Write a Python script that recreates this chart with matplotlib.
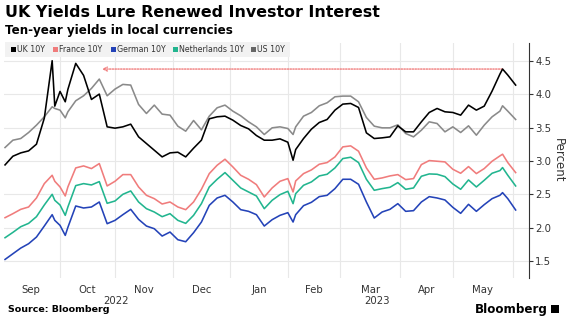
import numpy as np
import pandas as pd
import matplotlib
matplotlib.use('Agg')
import matplotlib.pyplot as plt

# ---------------- data ----------------
dates = ['2022-09-02', '2022-09-07', '2022-09-12', '2022-09-15', '2022-09-20', '2022-09-23',
         '2022-09-28', '2022-09-29', '2022-10-03', '2022-10-05', '2022-10-06', '2022-10-11',
         '2022-10-14', '2022-10-19', '2022-10-24', '2022-10-27', '2022-11-01', '2022-11-04',
         '2022-11-09', '2022-11-14', '2022-11-17', '2022-11-22', '2022-11-25', '2022-11-30',
         '2022-12-05', '2022-12-08', '2022-12-13', '2022-12-16', '2022-12-21', '2022-12-26',
         '2022-12-29', '2023-01-03', '2023-01-06', '2023-01-11', '2023-01-16', '2023-01-19',
         '2023-01-24', '2023-01-27', '2023-02-01', '2023-02-03', '2023-02-06', '2023-02-09',
         '2023-02-14', '2023-02-17', '2023-02-22', '2023-02-27', '2023-03-02', '2023-03-07',
         '2023-03-10', '2023-03-15', '2023-03-20', '2023-03-23', '2023-03-28', '2023-03-31',
         '2023-04-05', '2023-04-10', '2023-04-13', '2023-04-18', '2023-04-21', '2023-04-26',
         '2023-05-01', '2023-05-04', '2023-05-09', '2023-05-12', '2023-05-17', '2023-05-22',
         '2023-05-25', '2023-05-26', '2023-05-30', '2023-06-02']

uk_10y = [2.94, 3.07, 3.12, 3.15, 3.25, 3.64, 4.50, 3.82, 4.04, 3.885, 4.07, 4.46,
          4.28, 3.92, 4.00, 3.51, 3.49, 3.51, 3.55, 3.36, 3.26, 3.16, 3.06, 3.12,
          3.13, 3.06, 3.19, 3.31, 3.63, 3.66, 3.67, 3.61, 3.53, 3.48, 3.38, 3.31,
          3.31, 3.33, 3.28, 3.01, 3.17, 3.335, 3.475, 3.575, 3.62, 3.76, 3.85, 3.86,
          3.80, 3.42, 3.335, 3.345, 3.36, 3.525, 3.435, 3.435, 3.585, 3.725, 3.785, 3.735,
          3.725, 3.685, 3.835, 3.76, 3.82, 4.045, 4.30, 4.375, 4.285, 4.135]

france_10y = [2.15, 2.21, 2.275, 2.31, 2.445, 2.66, 2.785, 2.695, 2.61, 2.475, 2.61, 2.895,
              2.925, 2.885, 2.96, 2.625, 2.695, 2.795, 2.795, 2.61, 2.485, 2.435, 2.355, 2.385,
              2.31, 2.27, 2.385, 2.575, 2.81, 2.935, 3.025, 2.91, 2.785, 2.725, 2.645, 2.46,
              2.595, 2.695, 2.735, 2.535, 2.70, 2.81, 2.865, 2.95, 2.975, 3.06, 3.21, 3.225,
              3.145, 2.895, 2.725, 2.745, 2.775, 2.795, 2.72, 2.735, 2.945, 3.005, 2.995, 2.985,
              2.875, 2.815, 2.915, 2.81, 2.885, 2.995, 3.075, 3.10, 2.975, 2.825]

german_10y = [1.525, 1.61, 1.695, 1.76, 1.86, 2.025, 2.195, 2.11, 2.035, 1.885, 2.005, 2.325,
              2.295, 2.31, 2.385, 2.06, 2.11, 2.195, 2.275, 2.125, 2.025, 1.985, 1.875, 1.935,
              1.82, 1.79, 1.925, 2.085, 2.335, 2.445, 2.485, 2.385, 2.27, 2.245, 2.195, 2.025,
              2.12, 2.185, 2.225, 2.085, 2.195, 2.33, 2.38, 2.465, 2.485, 2.585, 2.725, 2.725,
              2.65, 2.385, 2.145, 2.235, 2.275, 2.36, 2.245, 2.255, 2.385, 2.465, 2.445, 2.415,
              2.305, 2.215, 2.35, 2.245, 2.345, 2.435, 2.485, 2.525, 2.435, 2.265]

netherlands_10y = [1.85, 1.93, 2.015, 2.065, 2.165, 2.34, 2.50, 2.41, 2.34, 2.185, 2.31, 2.63,
                   2.66, 2.64, 2.69, 2.365, 2.40, 2.50, 2.55, 2.385, 2.285, 2.235, 2.165, 2.21,
                   2.11, 2.065, 2.185, 2.36, 2.61, 2.725, 2.825, 2.71, 2.595, 2.535, 2.475, 2.285,
                   2.41, 2.495, 2.545, 2.36, 2.51, 2.635, 2.685, 2.775, 2.80, 2.895, 3.035, 3.055,
                   2.975, 2.725, 2.56, 2.585, 2.605, 2.675, 2.575, 2.595, 2.77, 2.805, 2.80, 2.765,
                   2.655, 2.575, 2.715, 2.61, 2.71, 2.815, 2.855, 2.90, 2.785, 2.625]

us_10y = [3.20, 3.31, 3.335, 3.425, 3.535, 3.66, 3.81, 3.785, 3.76, 3.645, 3.735, 3.90,
          3.975, 4.085, 4.225, 3.975, 4.075, 4.145, 4.135, 3.845, 3.71, 3.835, 3.70, 3.685,
          3.52, 3.445, 3.605, 3.465, 3.67, 3.795, 3.835, 3.745, 3.675, 3.585, 3.51, 3.395,
          3.495, 3.51, 3.485, 3.395, 3.51, 3.67, 3.725, 3.825, 3.87, 3.96, 3.97, 3.97,
          3.885, 3.65, 3.52, 3.495, 3.495, 3.54, 3.41, 3.36, 3.46, 3.585, 3.56, 3.435,
          3.51, 3.425, 3.525, 3.385, 3.535, 3.66, 3.745, 3.825, 3.745, 3.62]

series_names = ['UK 10Y', 'France 10Y', 'German 10Y', 'Netherlands 10Y', 'US 10Y']
arrow_start_date = '2022-10-25'
y_ticks = [1.5, 2.0, 2.5, 3.0, 3.5, 4.0, 4.5]
month_labels = ['Sep', 'Oct', 'Nov', 'Dec', 'Jan', 'Feb', 'Mar', 'Apr', 'May']
year_labels = ['2022', '2023']

# ---------------- styling ----------------
colors = {'UK 10Y': '#000000', 'France 10Y': '#f07c7c', 'German 10Y': '#2443b8',
          'Netherlands 10Y': '#22b58f', 'US 10Y': '#8a8a8a'}
legend_sq = {'UK 10Y': '#000000', 'France 10Y': '#f07c7c', 'German 10Y': '#2443b8',
             'Netherlands 10Y': '#22b58f', 'US 10Y': '#666666'}
text_col = '#333333'
grid_col = '#e8e8e8'
W, H = 569, 325

# business-day axis (no weekend gaps)
origin = np.datetime64('2022-09-01')
def bpos(d):
    return np.busday_count(origin, np.array(d, dtype='datetime64[D]'))

x = bpos(dates).astype(float)

fig = plt.figure(figsize=(W / 100, H / 100), dpi=100)
ax = fig.add_axes([0.007, 0.1446, 0.9227, 0.7231])

data = {'UK 10Y': uk_10y, 'France 10Y': france_10y, 'German 10Y': german_10y,
        'Netherlands 10Y': netherlands_10y, 'US 10Y': us_10y}
draw_order = ['US 10Y', 'German 10Y', 'Netherlands 10Y', 'France 10Y', 'UK 10Y']
for name in draw_order:
    ax.plot(x, data[name], color=colors[name], lw=1.15, solid_joinstyle='round', zorder=3)

# month gridlines at first business day of each month
month_starts = pd.date_range('2022-09-01', '2023-06-01', freq='MS')
first_bdays = np.busday_offset(np.array(month_starts.values, dtype='datetime64[D]'), 0, roll='forward')
mpos = bpos(first_bdays).astype(float)
for p in mpos[1:]:
    ax.axvline(p, color=grid_col, lw=0.8, zorder=1)
for yv in y_ticks:
    ax.axhline(yv, color=grid_col, lw=0.8, zorder=1)

ax.set_xlim(0.6, 201.1)
ax.set_ylim(1.247, 4.765)

# month labels centered between gridlines
mids = (mpos[:-1] + mpos[1:]) / 2
ax.set_xticks([])
for lab, m in zip(month_labels, mids):
    ax.text(m, -0.03, lab, transform=ax.get_xaxis_transform(), ha='center', va='top',
            fontsize=7.3, color=text_col)
year_break = bpos(['2023-01-02'])[0]
ax.text((0 + year_break) / 2, -0.075, year_labels[0], transform=ax.get_xaxis_transform(),
        ha='center', va='top', fontsize=7.3, color=text_col)
ax.text((year_break + 200) / 2 - 0.5, -0.075, year_labels[1], transform=ax.get_xaxis_transform(),
        ha='center', va='top', fontsize=7.3, color=text_col)

# right y axis
ax.yaxis.tick_right()
ax.set_yticks(y_ticks)
ax.set_yticklabels([f'{v:.1f}' for v in y_ticks], fontsize=7.3, color=text_col)
ax.tick_params(axis='y', length=3, width=0.8, color='#333333', pad=1.5)
for s in ['top', 'left', 'bottom']:
    ax.spines[s].set_visible(False)
ax.spines['right'].set_color('#333333')
ax.spines['right'].set_linewidth(0.8)
ax.yaxis.set_label_position('right')
ax.set_ylabel('Percent', rotation=270, fontsize=8.5, color=text_col, labelpad=10)

# dotted arrow from the UK peak back to the late-October level
peak_i = int(np.argmax(uk_10y[20:])) + 20
peak_val = uk_10y[peak_i]
ax.annotate('', xy=(bpos([arrow_start_date])[0], peak_val), xytext=(x[peak_i], peak_val),
            arrowprops=dict(arrowstyle='->', color='#f07c7c', lw=1.0, linestyle=(0, (1, 1)),
                            shrinkA=0, shrinkB=0, mutation_scale=7), zorder=2)

# titles
fig.text(5 / W, 1 - 5 / H, 'UK Yields Lure Renewed Investor Interest', fontsize=11.4,
         fontweight='bold', color='black', ha='left', va='top')
fig.text(5 / W, 1 - 24 / H, 'Ten-year yields in local currencies', fontsize=8.6,
         fontweight='bold', color='black', ha='left', va='top')

# legend band
band = plt.Rectangle((5 / W, 1 - 57 / H), 285 / W, 15 / H, transform=fig.transFigure,
                     facecolor='#f2f2f2', edgecolor='none', zorder=5)
fig.patches.append(band)
leg_x = [11, 53, 111, 173, 251]
for name, lx in zip(series_names, leg_x):
    sq = plt.Rectangle((lx / W, 1 - 52 / H), 5 / W, 5 / H, transform=fig.transFigure,
                       facecolor=legend_sq[name], edgecolor='none', zorder=6)
    fig.patches.append(sq)
    fig.text((lx + 6) / W, 1 - 49.5 / H, name, fontsize=5.7, color=text_col, ha='left',
             va='center', zorder=6)

fig.text(8 / W, 1 - 310 / H, 'Source: Bloomberg', fontsize=6.8, fontweight='bold',
         color='black', ha='left', va='center')
fig.text(548 / W, 1 - 309 / H, 'Bloomberg', fontsize=8.6, fontweight='bold',
         color='black', ha='right', va='center')
logo = plt.Rectangle((551 / W, 1 - 313 / H), 8 / W, 8 / H, transform=fig.transFigure,
                     facecolor='black', edgecolor='none')
fig.patches.append(logo)

fig.savefig('out.png', dpi=100)
